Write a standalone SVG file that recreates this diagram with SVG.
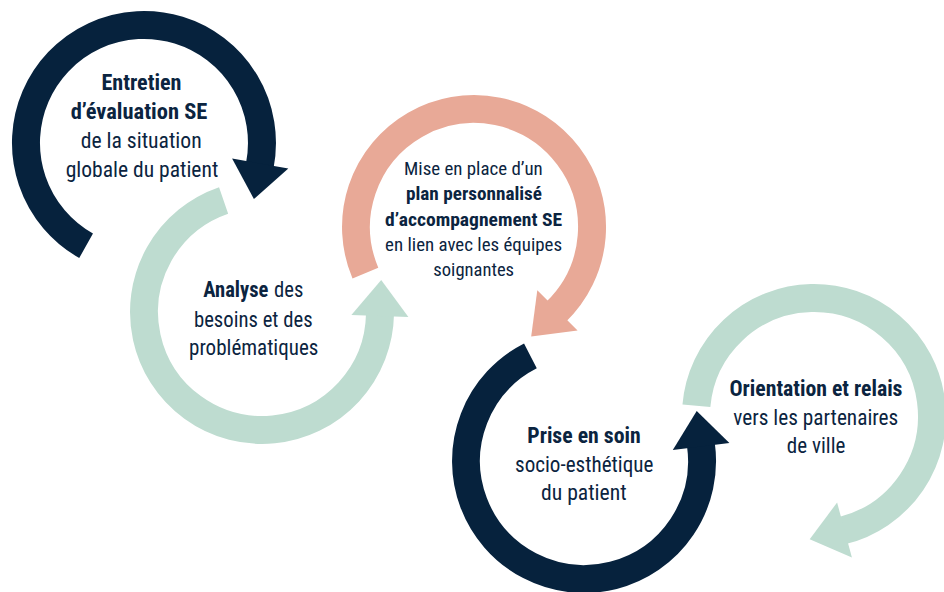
<svg xmlns="http://www.w3.org/2000/svg" width="944" height="592" viewBox="0 0 944 592">
<style>
.arc{fill:none;stroke-width:28;stroke-linecap:butt}
.navy .arc{stroke:#06223D}.navy .head{fill:#06223D}
.mint .arc{stroke:#BEDCD0}.mint .head{fill:#BEDCD0}
.salmon .arc{stroke:#E8A997}.salmon .head{fill:#E8A997}
text{font-family:"Liberation Sans Narrow","Roboto Condensed","Liberation Sans",Arial,sans-serif;fill:#0B2440;font-size:22px;text-anchor:middle}
.b{font-weight:700}
.s{font-size:19px}
</style>
<rect width="944" height="592" fill="#FFFFFF"/>
<g id="step1" class="navy">
  <path class="arc" d="M 86.1 245.8 A 118 118 0 1 1 259.8 165.5"/>
  <polygon class="head" points="232.1,158.6 288.3,168.4 253.9,199.0"/>
  <text class="b" x="141.5" y="90" textLength="80" lengthAdjust="spacingAndGlyphs">Entretien</text>
  <text class="b" x="139" y="119.3" textLength="136.6" lengthAdjust="spacingAndGlyphs">d’évaluation SE</text>
  <text x="141.2" y="148.3" textLength="121" lengthAdjust="spacingAndGlyphs">de la situation</text>
  <text x="142" y="176.8" textLength="152.6" lengthAdjust="spacingAndGlyphs">globale du patient</text>
</g>
<g id="step2" class="mint">
  <path class="arc" d="M 223.6 200.4 A 118 118 0 1 0 380.0 314.1"/>
  <polygon class="head" points="351.4,315.1 408.4,317.1 381.2,280.1"/>
  <text class="b" x="203.3" y="297.3" style="text-anchor:start" textLength="65" lengthAdjust="spacingAndGlyphs">Analyse</text>
  <text x="274" y="297.3" style="text-anchor:start" textLength="29.3" lengthAdjust="spacingAndGlyphs">des</text>
  <text x="253.3" y="326.7" textLength="118.7" lengthAdjust="spacingAndGlyphs">besoins et des</text>
  <text x="253.7" y="355" textLength="129.3" lengthAdjust="spacingAndGlyphs">problématiques</text>
</g>
<g id="step3" class="salmon">
  <path class="arc" d="M 365.4 273.1 A 118 118 0 1 1 556.0 311.9"/>
  <polygon class="head" points="537.3,290.3 577.6,330.6 531.2,336.6"/>
  <text class="s" x="473.4" y="175" textLength="138.7" lengthAdjust="spacingAndGlyphs">Mise en place d’un</text>
  <text class="s b" x="474" y="200" textLength="136" lengthAdjust="spacingAndGlyphs">plan personnalisé</text>
  <text class="s b" x="473.6" y="225.5" textLength="177" lengthAdjust="spacingAndGlyphs">d’accompagnement SE</text>
  <text class="s" x="473.6" y="250.5" textLength="177" lengthAdjust="spacingAndGlyphs">en lien avec les équipes</text>
  <text class="s" x="473.7" y="275.5" textLength="80.7" lengthAdjust="spacingAndGlyphs">soignantes</text>
</g>
<g id="step4" class="navy">
  <path class="arc" d="M 530.4 355.9 A 118 118 0 1 0 700.9 444.6"/>
  <polygon class="head" points="672.8,450.1 729.4,443.1 696.7,410.9"/>
  <text class="b" x="584" y="442.7" textLength="113.3" lengthAdjust="spacingAndGlyphs">Prise en soin</text>
  <text x="584.2" y="471.7" textLength="138.3" lengthAdjust="spacingAndGlyphs">socio-esthétique</text>
  <text x="583.8" y="500" textLength="85.7" lengthAdjust="spacingAndGlyphs">du patient</text>
</g>
<g id="step5" class="mint">
  <path class="arc" d="M 696.4 405.7 A 118 118 0 1 1 842.5 530.5"/>
  <polygon class="head" points="837.1,502.5 851.9,557.5 809.7,539.3"/>
  <text class="b" x="816" y="395.5" textLength="173" lengthAdjust="spacingAndGlyphs">Orientation et relais</text>
  <text x="815.8" y="424.5" textLength="165" lengthAdjust="spacingAndGlyphs">vers les partenaires</text>
  <text x="816.1" y="453" textLength="58.5" lengthAdjust="spacingAndGlyphs">de ville</text>
</g>
</svg>
